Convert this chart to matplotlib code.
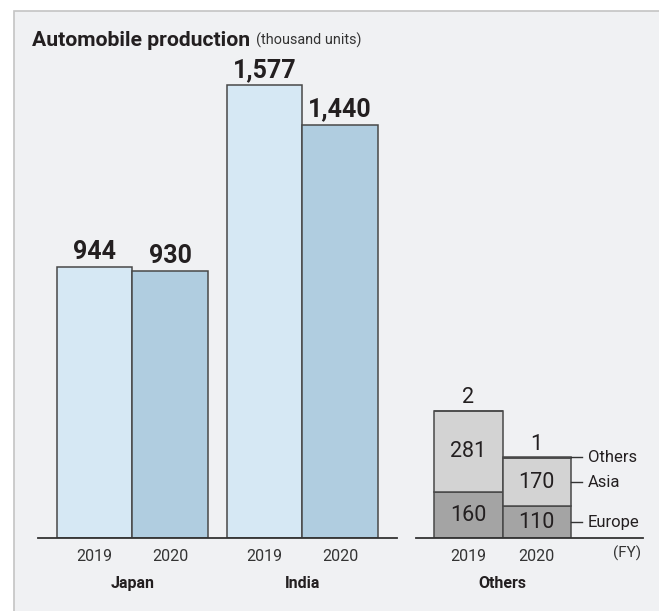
import matplotlib
matplotlib.use("Agg")
import matplotlib.pyplot as plt
from matplotlib.patches import Rectangle
from matplotlib import font_manager

# ---- data ----
groups = ["Japan", "India"]
years = ["2019", "2020"]
japan_india = {"Japan": [944, 930], "India": [1577, 1440]}
value_labels = {"Japan": ["944", "930"], "India": ["1,577", "1,440"]}
others_group = "Others"
others_segments = ["Europe", "Asia", "Others"]
others_values = {"Europe": [160, 110], "Asia": [281, 170], "Others": [2, 1]}

title = "Automobile production"
unit = "(thousand units)"

# ---- fonts ----
avail = {f.name for f in font_manager.fontManager.ttflist}
fam = "Liberation Sans Narrow" if "Liberation Sans Narrow" in avail else ("Roboto" if "Roboto" in avail else "DejaVu Sans")
plt.rcParams["font.family"] = [fam, "DejaVu Sans"]

W, H = 659, 611
fig = plt.figure(figsize=(W / 100, H / 100), dpi=100, facecolor="white")

def px(x0, y0, x1, y1):
    return [x0 / W, 1 - y1 / H, (x1 - x0) / W, (y1 - y0) / H]

# panel background
fig.patches.append(Rectangle((14 / W, -0.01), 1, 1 - 11 / H + 0.01, transform=fig.transFigure,
                             facecolor="#f0f1f3", edgecolor="#c4c4c4", linewidth=1.2, zorder=-10))

YMAX = 1735
c19, c20 = "#d6e8f4", "#b0cde0"
edge = "#484848"
txt = "#231f20"

# ---- left axes: Japan / India ----
ax = fig.add_axes(px(38, 40, 397, 538), zorder=1)
ax.set_xlim(0, 359 / 75.5)
ax.set_ylim(0, YMAX)
ax.axis("off")
ax.axhline(0, color="#333333", lw=1.3, zorder=5, clip_on=False)

group_start = [0.75, 3.0]
for g, name in enumerate(groups):
    for i, yr in enumerate(years):
        x = group_start[g] + i
        v = japan_india[name][i]
        ax.bar(x, v, width=1.0, color=[c19, c20][i], edgecolor=edge, linewidth=1.1, zorder=3)
        ax.annotate(value_labels[name][i], (x, v), xytext=(0, 2.5), textcoords="offset points",
                    ha="center", va="bottom", fontsize=18, fontweight="bold", color=txt)
        ax.annotate(yr, (x, 0), xytext=(0, -13.3), textcoords="offset points",
                    ha="center", va="center", fontsize=11.5, color="#333333")
    ax.annotate(name, (group_start[g] + 0.5, 0), xytext=(0, -32.5), textcoords="offset points",
                ha="center", va="center", fontsize=11.5, fontweight="bold", color=txt)

title_txt = ax.text(-6 / 75.5, 1.0, title, transform=ax.get_xaxis_transform(), fontsize=15.2,
                    fontweight="bold", color=txt, va="center", ha="left")

# ---- right axes: Others ----
ax2 = fig.add_axes(px(416, 40, 643, 538), zorder=1)
bw = 68.5
ax2.set_xlim(0, 227 / bw)
ax2.set_ylim(0, YMAX)
ax2.axis("off")
ax2.axhline(0, color="#333333", lw=1.3, zorder=5, clip_on=False)

seg_colors = {"Europe": "#a4a4a4", "Asia": "#d3d3d3", "Others": "#d3d3d3"}
centers = [18 / bw + 0.5, 18 / bw + 1.5]
for i, yr in enumerate(years):
    bottom = 0
    for s in others_segments:
        v = others_values[s][i]
        ax2.bar(centers[i], v, bottom=bottom, width=1.0, color=seg_colors[s], edgecolor=edge,
                linewidth=1.1, zorder=3)
        if s != "Others":
            ax2.text(centers[i], bottom + v / 2, str(v), ha="center", va="center",
                     fontsize=15.5, color=txt, zorder=6)
        else:
            ax2.annotate(str(v), (centers[i], bottom + v), xytext=(0, 2), textcoords="offset points",
                         ha="center", va="bottom", fontsize=15.5, color=txt)
        bottom += v
    ax2.annotate(yr, (centers[i], 0), xytext=(0, -13.3), textcoords="offset points",
                 ha="center", va="center", fontsize=11.5, color="#333333")
ax2.annotate(others_group, (sum(centers) / 2, 0), xytext=(0, -32.5), textcoords="offset points",
             ha="center", va="center", fontsize=11.5, fontweight="bold", color=txt)

# segment legend labels beside 2020 bar
xr = centers[1] + 0.5
bottom = 0
for s in others_segments:
    v = others_values[s][1]
    ymid = bottom + v / 2 if s != "Others" else bottom + v
    ax2.plot([xr, xr + 11 / bw], [ymid, ymid], color="#333333", lw=1.0, clip_on=False, zorder=6)
    ax2.annotate(s, (xr + 11 / bw, ymid), xytext=(4, 0), textcoords="offset points",
                 ha="left", va="center", fontsize=12, color=txt)
    bottom += v

ax2.annotate("(FY)", (1.0, 0), xycoords="axes fraction", xytext=(-1, -11), textcoords="offset points",
             ha="right", va="center", fontsize=11, color="#333333")

# unit label after title
fig.canvas.draw()
r = fig.canvas.get_renderer()
bb = title_txt.get_window_extent(r)
fig.text((bb.x1 + 6) / W, (bb.y0 + bb.y1) / 2 / H, unit, fontsize=10.4, color="#333333",
         ha="left", va="center")

fig.savefig("out.png", dpi=100, facecolor="white")
